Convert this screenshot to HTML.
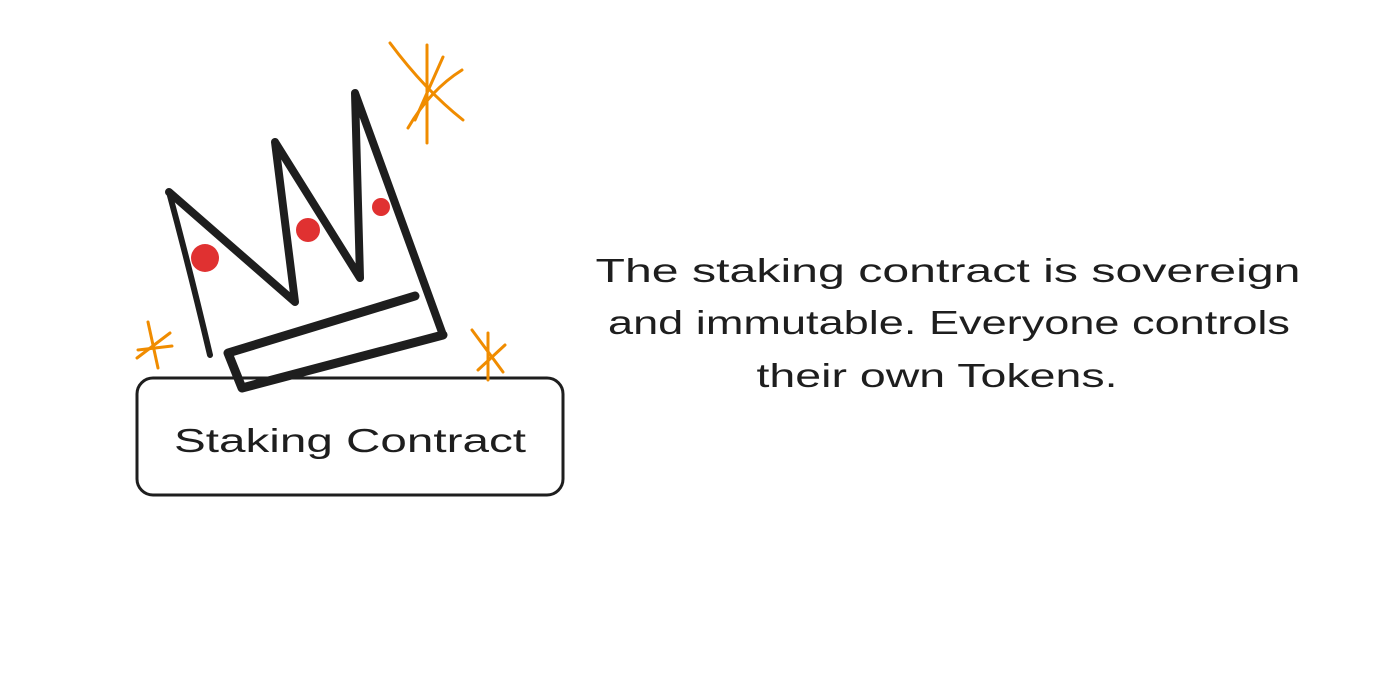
<!DOCTYPE html>
<html><head><meta charset="utf-8"><style>
html,body{margin:0;padding:0;background:#fff;}
svg{display:block;}
text{font-family:"Liberation Sans",sans-serif;fill:#1e1e1e;}
</style></head><body>
<svg width="1380" height="682" viewBox="0 0 1380 682" xmlns="http://www.w3.org/2000/svg">
<rect width="1380" height="682" fill="#fff"/>
<!-- box -->
<rect x="137" y="378" width="426" height="117" rx="16" fill="none" stroke="#1e1e1e" stroke-width="3"/>
<!-- crown -->
<g fill="none" stroke="#1e1e1e" stroke-linecap="round" stroke-linejoin="round">
<path d="M169 192 L295 302 L275 142 L360 278 L355 93 L443 335" stroke-width="8"/>
<path d="M169 192 Q190 270 210 355" stroke-width="6"/>
<path d="M415 296 L228 353 L242 388 L443 335" stroke-width="9"/>
</g>
<g fill="#e03131">
<circle cx="205" cy="258" r="14"/>
<circle cx="308" cy="230" r="12"/>
<circle cx="381" cy="207" r="9"/>
</g>
<!-- stars -->
<g stroke="#f08c00" stroke-width="3" stroke-linecap="round" fill="none">
<path d="M390 43 Q425 90 463 120"/>
<path d="M427 45 L427 143"/>
<path d="M408 128 Q430 90 462 70"/>
<path d="M443 57 L415 120"/>
<path d="M148 322 L158 368"/>
<path d="M137 358 L170 333"/>
<path d="M138 350 L172 346"/>
<path d="M472 330 L503 372"/>
<path d="M488 333 L488 380"/>
<path d="M478 370 L505 345"/>
</g>
<text x="350" y="452" font-size="33" text-anchor="middle" textLength="352" lengthAdjust="spacingAndGlyphs">Staking Contract</text>
<text x="948" y="282" font-size="33" text-anchor="middle" textLength="705" lengthAdjust="spacingAndGlyphs">The staking contract is sovereign</text>
<text x="949" y="334" font-size="33" text-anchor="middle" textLength="682" lengthAdjust="spacingAndGlyphs">and immutable. Everyone controls</text>
<text x="937" y="387" font-size="33" text-anchor="middle" textLength="361" lengthAdjust="spacingAndGlyphs">their own Tokens.</text>
</svg>
</body></html>
